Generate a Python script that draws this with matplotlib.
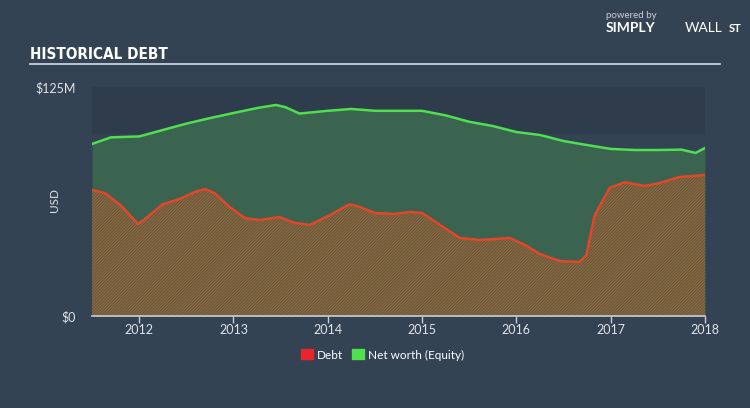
import matplotlib
matplotlib.use("Agg")
import matplotlib.pyplot as plt

# values (USD millions)
years = [2011.50, 2011.64, 2011.80, 2011.99, 2012.11, 2012.25, 2012.43, 2012.59, 2012.70,
         2012.80, 2012.96, 2013.12, 2013.28, 2013.49, 2013.65, 2013.81, 2014.02, 2014.23,
         2014.34, 2014.50, 2014.71, 2014.87, 2015.00, 2015.19, 2015.40, 2015.61, 2015.77,
         2015.93, 2016.09, 2016.25, 2016.46, 2016.67, 2016.74, 2016.83, 2016.99, 2017.15,
         2017.36, 2017.52, 2017.73, 2017.94, 2018.00]
debt = [68.8, 67.0, 60.6, 50.2, 55.0, 61.0, 63.9, 67.7, 69.3, 67.0, 59.5, 53.5, 52.4, 54.0,
        50.8, 49.7, 55.0, 61.0, 59.5, 56.2, 55.7, 56.8, 56.2, 49.7, 42.6, 41.5, 42.0, 42.6,
        38.8, 33.8, 30.0, 29.5, 33.0, 55.0, 70.0, 73.0, 71.0, 72.6, 75.9, 76.7, 77.0]

nw_years = [2011.50, 2011.70, 2012.00, 2012.25, 2012.50, 2012.75, 2013.00, 2013.25, 2013.45,
            2013.55, 2013.70, 2014.00, 2014.25, 2014.50, 2014.75, 2015.00, 2015.25, 2015.50,
            2015.75, 2016.00, 2016.25, 2016.50, 2016.75, 2017.00, 2017.25, 2017.50, 2017.75,
            2017.90, 2018.00]
networth = [93.9, 97.5, 98.0, 101.5, 105.0, 108.0, 110.8, 113.5, 115.2, 114.0, 110.5, 112.0,
            113.0, 112.0, 112.0, 112.0, 109.5, 106.0, 103.7, 100.4, 98.8, 95.5, 93.3, 91.2,
            90.6, 90.6, 90.8, 89.0, 91.7]

bg = "#344354"
plt.rcParams["hatch.linewidth"] = 0.7
plt.rcParams["font.family"] = ["Lato", "DejaVu Sans"]
fig = plt.figure(figsize=(7.5, 4.08), dpi=100, facecolor=bg)
ax = fig.add_axes([0.1227, 0.2255, 0.8173, 0.5613])
ax.set_facecolor(bg)

ax.axhspan(100, 125, color="#2f3c4c", zorder=0)

ax.fill_between(nw_years, networth, 0, color="#3a6350", lw=0, zorder=1)
ax.plot(nw_years, networth, color="#4fdf4f", lw=1.8, zorder=3)

ax.fill_between(years, debt, 0, facecolor="#3c6a4b", edgecolor="#c4552f", hatch="/" * 11, lw=0, zorder=2)
ax.plot(years, debt, color="#e4462a", lw=1.8, zorder=3)

ax.set_xlim(2011.5, 2018.0)
ax.set_ylim(0, 125)
ax.set_xticks([2012, 2013, 2014, 2015, 2016, 2017, 2018])
ax.set_xticklabels(["2012", "2013", "2014", "2015", "2016", "2017", "2018"])
ax.set_yticks([0, 125])
ax.set_yticklabels(["$0", "$125M"])
ax.tick_params(axis="x", colors="#c8ced6", labelcolor="#dfe3e8", labelsize=9, length=5, width=1, pad=1)
ax.tick_params(axis="y", length=0, labelcolor="#dfe3e8", labelsize=9, pad=12)
for s in ["top", "right", "left"]:
    ax.spines[s].set_visible(False)
ax.spines["bottom"].set_color("#c8ced6")
ax.spines["bottom"].set_linewidth(1.2)
fig.text(0.073, 0.51, "USD", color="#dfe3e8", fontsize=8.5, rotation=90, ha="center", va="center")

# header
fig.text(0.04, 0.855, "HISTORICAL DEBT", color="white", fontsize=11, fontweight="bold",
         family="DejaVu Sans", fontstretch="condensed")
fig.add_artist(plt.Line2D([0.04, 0.96], [0.843, 0.843], color="#c8d0da", lw=1.3))
fig.text(0.808, 0.955, "powered by", color="#c8ced6", fontsize=7)
fig.text(0.808, 0.922, "SIMPLY", color="white", fontsize=10, fontweight="bold")
fig.text(0.913, 0.922, "WALL", color="white", fontsize=10)
fig.text(0.972, 0.922, "ST", color="white", fontsize=8, fontweight="bold")

# legend
fig.patches.append(plt.Rectangle((0.401, 0.119), 0.016, 0.025, color="#e8262a", transform=fig.transFigure))
fig.text(0.423, 0.119, "Debt", color="white", fontsize=8.5)
fig.patches.append(plt.Rectangle((0.469, 0.119), 0.016, 0.025, color="#4fe04f", transform=fig.transFigure))
fig.text(0.491, 0.119, "Net worth (Equity)", color="white", fontsize=8.5)

fig.savefig("out.png", dpi=100, facecolor=bg)
